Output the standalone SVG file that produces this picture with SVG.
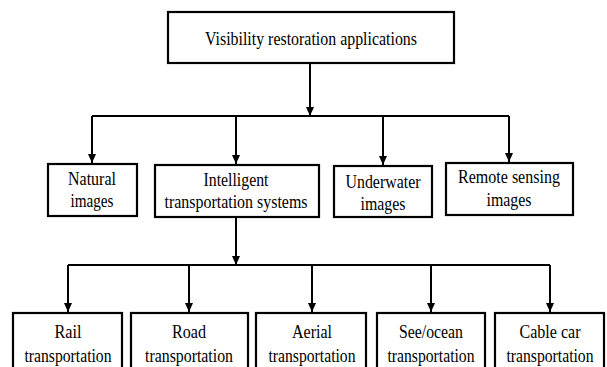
<svg xmlns="http://www.w3.org/2000/svg" width="607" height="367" viewBox="0 0 607 367">
<style>
.box{fill:#fff;stroke:#000;stroke-width:2.2}
.c{fill:none;stroke:#000;stroke-width:2}
text{font-family:"Liberation Serif","Times New Roman",serif;font-size:19px;fill:#000;text-anchor:middle}
</style>
<defs>
<marker id="ah" markerUnits="userSpaceOnUse" markerWidth="10" markerHeight="10" viewBox="0 0 10 10" refX="9" refY="5" orient="auto">
<path d="M0,1 L9,5 L0,9 Z" fill="#000"/>
</marker>
</defs>
<rect width="607" height="367" fill="#fff"/>
<g id="connectors">
<path class="c" d="M310,63 V116" marker-end="url(#ah)"/>
<path class="c" d="M92,116 H509"/>
<path class="c" d="M92,116 V163" marker-end="url(#ah)"/>
<path class="c" d="M236,116 V164" marker-end="url(#ah)"/>
<path class="c" d="M383,116 V165" marker-end="url(#ah)"/>
<path class="c" d="M509,116 V162" marker-end="url(#ah)"/>
<path class="c" d="M236,217 V265" marker-end="url(#ah)"/>
<path class="c" d="M68,265 H550"/>
<path class="c" d="M68,265 V312" marker-end="url(#ah)"/>
<path class="c" d="M189,265 V312" marker-end="url(#ah)"/>
<path class="c" d="M312,265 V312" marker-end="url(#ah)"/>
<path class="c" d="M431,265 V312" marker-end="url(#ah)"/>
<path class="c" d="M550,265 V312" marker-end="url(#ah)"/>
</g>
<g id="root">
<rect class="box" x="168" y="12" width="286" height="51"/>
<text x="311" y="45" textLength="212" lengthAdjust="spacingAndGlyphs">Visibility restoration applications</text>
</g>
<g id="natural">
<rect class="box" x="48" y="164" width="89" height="52"/>
<text x="92" y="185" textLength="48" lengthAdjust="spacingAndGlyphs">Natural</text>
<text x="92" y="207" textLength="43" lengthAdjust="spacingAndGlyphs">images</text>
</g>
<g id="its">
<rect class="box" x="155" y="165" width="164" height="52"/>
<text x="236" y="186" textLength="65" lengthAdjust="spacingAndGlyphs">Intelligent</text>
<text x="236" y="208" textLength="143" lengthAdjust="spacingAndGlyphs">transportation systems</text>
</g>
<g id="underwater">
<rect class="box" x="334" y="166" width="98" height="51"/>
<text x="383" y="188" textLength="75" lengthAdjust="spacingAndGlyphs">Underwater</text>
<text x="383" y="210" textLength="45" lengthAdjust="spacingAndGlyphs">images</text>
</g>
<g id="remote">
<rect class="box" x="446" y="163" width="127" height="52"/>
<text x="509" y="183" textLength="102" lengthAdjust="spacingAndGlyphs">Remote sensing</text>
<text x="509" y="206" textLength="45" lengthAdjust="spacingAndGlyphs">images</text>
</g>
<g id="rail">
<rect class="box" x="13" y="313" width="109" height="62"/>
<text x="68" y="338" textLength="27" lengthAdjust="spacingAndGlyphs">Rail</text>
<text x="68" y="362" textLength="87" lengthAdjust="spacingAndGlyphs">transportation</text>
</g>
<g id="road">
<rect class="box" x="131" y="313" width="117" height="62"/>
<text x="189" y="338" textLength="34" lengthAdjust="spacingAndGlyphs">Road</text>
<text x="189" y="362" textLength="88" lengthAdjust="spacingAndGlyphs">transportation</text>
</g>
<g id="aerial">
<rect class="box" x="256" y="313" width="110" height="62"/>
<text x="312" y="338" textLength="40" lengthAdjust="spacingAndGlyphs">Aerial</text>
<text x="312" y="362" textLength="87" lengthAdjust="spacingAndGlyphs">transportation</text>
</g>
<g id="sea">
<rect class="box" x="377" y="313" width="108" height="62"/>
<text x="431" y="338" textLength="64" lengthAdjust="spacingAndGlyphs">See/ocean</text>
<text x="431" y="362" textLength="87" lengthAdjust="spacingAndGlyphs">transportation</text>
</g>
<g id="cable">
<rect class="box" x="495" y="313" width="109" height="62"/>
<text x="550" y="338" textLength="61" lengthAdjust="spacingAndGlyphs">Cable car</text>
<text x="550" y="362" textLength="87" lengthAdjust="spacingAndGlyphs">transportation</text>
</g>
</svg>
